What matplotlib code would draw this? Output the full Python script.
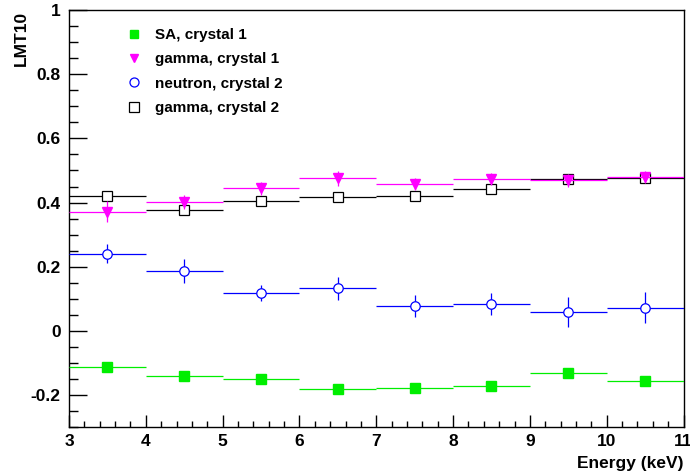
import matplotlib
matplotlib.use("Agg")
import matplotlib.pyplot as plt
from matplotlib.ticker import MultipleLocator, FuncFormatter
from matplotlib.lines import Line2D
import numpy as np

# bin centres in keV, each bin 1 keV wide
energy = np.array([3.5, 4.5, 5.5, 6.5, 7.5, 8.5, 9.5, 10.5])
half_width = 0.5

sa_c1 = [-0.112, -0.140, -0.148, -0.181, -0.179, -0.172, -0.131, -0.156]
sa_c1_err = [0.008, 0.008, 0.008, 0.008, 0.008, 0.008, 0.008, 0.008]

gamma_c1 = [0.371, 0.402, 0.444, 0.476, 0.458, 0.474, 0.470, 0.480]
gamma_c1_err = [0.033, 0.023, 0.020, 0.023, 0.018, 0.018, 0.020, 0.018]

neutron_c2 = [0.241, 0.187, 0.118, 0.133, 0.077, 0.083, 0.060, 0.073]
neutron_c2_err = [0.030, 0.036, 0.026, 0.036, 0.034, 0.034, 0.047, 0.049]

gamma_c2 = [0.422, 0.378, 0.404, 0.418, 0.420, 0.443, 0.474, 0.476]
gamma_c2_err = [0.012, 0.012, 0.012, 0.012, 0.012, 0.012, 0.012, 0.012]

labels = ['SA, crystal 1', 'gamma, crystal 1', 'neutron, crystal 2', 'gamma, crystal 2']

plt.rcParams['font.family'] = ['Liberation Sans', 'DejaVu Sans']
plt.rcParams['font.weight'] = 'bold'

fig = plt.figure(figsize=(6.9, 4.76), dpi=100)
ax = fig.add_axes([0.1, 0.1023, 0.8906, 0.8768])

lw = 0.9
ax.errorbar(energy, sa_c1, xerr=half_width, yerr=sa_c1_err, fmt='s',
            color='#00ee00', mfc='#00ee00', mec='#00ee00', ms=6.5,
            elinewidth=lw, capsize=0, zorder=3)
ax.errorbar(energy, neutron_c2, xerr=half_width, yerr=neutron_c2_err, fmt='o',
            color='#0000ff', mfc='white', mec='#0000ff', ms=6.8, mew=0.9,
            elinewidth=lw, capsize=0, zorder=3)
ax.errorbar(energy, gamma_c2, xerr=half_width, yerr=gamma_c2_err, fmt='s',
            color='#000000', mfc='white', mec='#000000', ms=6.8, mew=0.9,
            elinewidth=lw, capsize=0, zorder=3)
ax.errorbar(energy, gamma_c1, xerr=half_width, yerr=gamma_c1_err, fmt='v',
            color='#ff00ff', mfc='#ff00ff', mec='#ff00ff', ms=6.5,
            elinewidth=lw, capsize=0, zorder=4)

ax.set_xlim(3, 11)
ax.set_ylim(-0.3, 1.0)

ax.xaxis.set_major_locator(MultipleLocator(1))
ax.xaxis.set_minor_locator(MultipleLocator(0.2))
ax.yaxis.set_major_locator(MultipleLocator(0.2))
ax.yaxis.set_minor_locator(MultipleLocator(0.05))
ax.yaxis.set_major_formatter(FuncFormatter(
    lambda v, p: '0' if abs(v) < 1e-9 else ('1' if abs(v - 1) < 1e-9 else f'{v:g}')))

ax.tick_params(axis='both', which='both', direction='in', colors='black',
               labelsize=12.5, width=1.0)
ax.tick_params(axis='y', which='major', length=13, pad=6)
ax.tick_params(axis='y', which='minor', length=6.5)
ax.tick_params(axis='x', which='major', length=9, pad=5)
ax.tick_params(axis='x', which='minor', length=4.5)
for lab in ax.get_xticklabels() + ax.get_yticklabels():
    lab.set_fontweight('bold')

for sp in ax.spines.values():
    sp.set_linewidth(1.0)

ax.set_xlabel('Energy (keV)', fontsize=12.5, fontweight='bold', loc='right',
              labelpad=5)
ax.text(-0.078, 0.997, 'LMT10', transform=ax.transAxes, rotation=90,
        ha='center', va='top', fontsize=12.5, fontweight='bold')

handles = [
    Line2D([], [], ls='none', marker='s', color='#00ee00', ms=6),
    Line2D([], [], ls='none', marker='v', color='#ff00ff', ms=6),
    Line2D([], [], ls='none', marker='o', mfc='white', mec='#0000ff', ms=6.5, mew=0.9),
    Line2D([], [], ls='none', marker='s', mfc='white', mec='#000000', ms=6.5, mew=0.9),
]
ax.legend(handles, labels, loc='upper left', bbox_to_anchor=(0.068, 0.99),
          frameon=False, prop={'size': 11, 'weight': 'bold'},
          handletextpad=0.8, labelspacing=0.68, handlelength=1.2)

fig.savefig('out.png', dpi=100)
